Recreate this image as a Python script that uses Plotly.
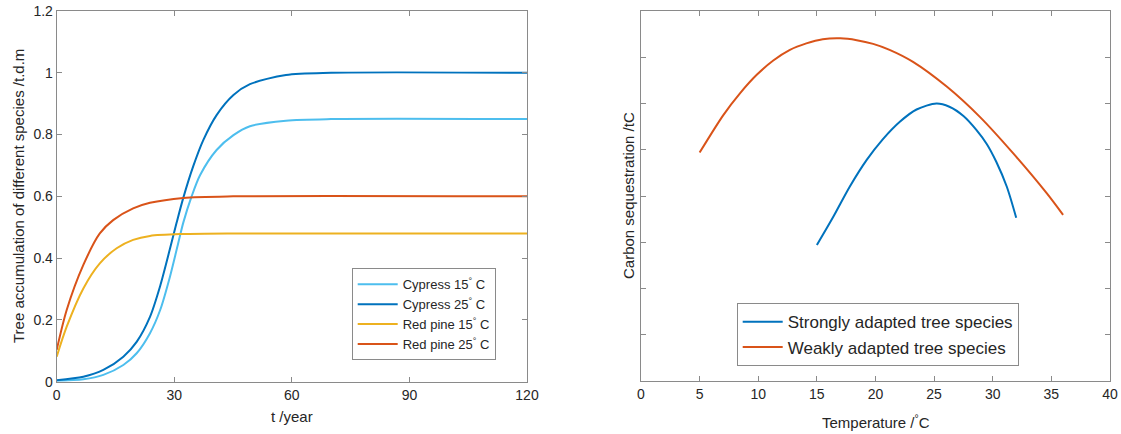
import plotly.graph_objects as go

# ---- Left panel data (t /year) ----
t_cyp25 = [0, 6.8, 11.9, 17, 20.4, 23.8, 26.4, 28.9, 30.6, 32.3, 34.8, 37.4, 40.8, 45.1, 49.3, 58.5, 70, 120]
cypress_25 = [0.005, 0.016, 0.038, 0.081, 0.129, 0.21, 0.31, 0.43, 0.515, 0.595, 0.696, 0.782, 0.863,
              0.928, 0.963, 0.993, 1.0, 1.0]
t_cyp15 = [0, 6.8, 11.9, 17, 20.4, 23.8, 26.4, 28.9, 31, 32.3, 34.4, 36.6, 40.8, 45.1, 49.3, 58.5, 70, 120]
cypress_15 = [0.003, 0.008, 0.022, 0.054, 0.092, 0.157, 0.232, 0.34, 0.448, 0.515, 0.599, 0.669, 0.75,
              0.798, 0.827, 0.845, 0.85, 0.85]
t_pine25 = [0, 2.55, 6.8, 11, 14.4, 19.5, 23.8, 32.3, 45, 120]
pine_25 = [0.103, 0.232, 0.378, 0.48, 0.523, 0.561, 0.579, 0.595, 0.6, 0.6]
t_pine15 = [0, 2.55, 6.8, 11, 15.3, 19.5, 23.8, 32, 45, 120]
pine_15 = [0.081, 0.178, 0.302, 0.383, 0.432, 0.459, 0.472, 0.478, 0.48, 0.48]

# ---- Right panel data (Temperature /°C) ----
temp_strong = [15, 16.4, 17.8, 19.25, 20.6, 22.1, 23.5, 25.2, 26.3, 27.5, 28.6, 29.5, 30.3, 31.2, 32]
carbon_strong = [2.94, 3.55, 4.20, 4.78, 5.22, 5.61, 5.87, 6.0, 5.93, 5.73, 5.43, 5.12, 4.74, 4.2, 3.53]
temp_weak = [5, 7.02, 8.44, 9.87, 11.28, 12.7, 14.1, 15.5, 17, 18.4, 19.8, 21.2, 23.2, 26.1, 28.9,
             31.75, 34.6, 36]
carbon_weak = [4.94, 5.75, 6.22, 6.62, 6.93, 7.16, 7.30, 7.39, 7.41, 7.37, 7.29, 7.16, 6.90, 6.36,
               5.71, 4.92, 4.06, 3.59]

left_labels = ["Cypress 15<sup>°</sup> C", "Cypress 25<sup>°</sup> C",
               "Red pine 15<sup>°</sup> C", "Red pine 25<sup>°</sup> C"]
right_labels = ["Strongly adapted tree species", "Weakly adapted tree species"]
left_xticks = [0, 30, 60, 90, 120]
left_yticks = [0, 0.2, 0.4, 0.6, 0.8, 1, 1.2]
left_yticktext = ["0", "0.2", "0.4", "0.6", "0.8", "1", "1.2"]
right_xticks = [0, 5, 10, 15, 20, 25, 30, 35, 40]
right_yticks = [0, 1, 2, 3, 4, 5, 6, 7, 8]

C_LBLUE = "#4DBEEE"
C_BLUE = "#0072BD"
C_YEL = "#EDB120"
C_ORG = "#D95319"

W, H = 1121, 434
FONT = "Liberation Sans, Arial, sans-serif"
TXT = "#262626"

def px(x):
    return x / W

def py(y):
    return 1 - y / H

fig = go.Figure()
lw = 2
def add(x, y, c, name, xa, ya, lg):
    fig.add_trace(go.Scatter(x=x, y=y, mode="lines",
                             line=dict(color=c, width=lw, shape="spline", smoothing=0.8),
                             name=name, xaxis=xa, yaxis=ya, legend=lg))

add(t_cyp15, cypress_15, C_LBLUE, left_labels[0], "x", "y", "legend")
add(t_cyp25, cypress_25, C_BLUE, left_labels[1], "x", "y", "legend")
add(t_pine15, pine_15, C_YEL, left_labels[2], "x", "y", "legend")
add(t_pine25, pine_25, C_ORG, left_labels[3], "x", "y", "legend")
add(temp_strong, carbon_strong, C_BLUE, right_labels[0], "x2", "y2", "legend2")
add(temp_weak, carbon_weak, C_ORG, right_labels[1], "x2", "y2", "legend2")

AX = "#8a8a8a"
TICKF = dict(family=FONT, size=14, color=TXT)
common = dict(showgrid=False, zeroline=False, showline=True, linecolor=AX, linewidth=1,
              mirror="allticks", ticks="inside", ticklen=5, tickcolor=AX, tickfont=TICKF,
              automargin=False)

fig.update_layout(
    width=W, height=H,
    margin=dict(l=0, r=0, t=0, b=0),
    paper_bgcolor="white", plot_bgcolor="white",
    font=dict(family=FONT, color=TXT),
    showlegend=True,
    xaxis=dict(domain=[px(56.7), px(527)], range=[0, 120], tickvals=left_xticks, anchor="y", **common),
    yaxis=dict(domain=[py(381.7), py(11)], range=[0, 1.2], tickvals=left_yticks, ticktext=left_yticktext,
               anchor="x", **common),
    xaxis2=dict(domain=[px(641), px(1110)], range=[0, 40], tickvals=right_xticks, anchor="y2", **common),
    yaxis2=dict(domain=[py(381), py(11)], range=[0, 8], tickvals=right_yticks, showticklabels=False,
                anchor="x2", **common),
    legend=dict(x=px(351.7), y=py(268.3), xanchor="left", yanchor="top",
                bgcolor="white", bordercolor=AX, borderwidth=1,
                font=dict(family=FONT, size=13, color=TXT), itemwidth=40, tracegroupgap=0),
    legend2=dict(x=px(736.7), y=py(303.3), xanchor="left", yanchor="top",
                 bgcolor="white", bordercolor=AX, borderwidth=1,
                 font=dict(family=FONT, size=17, color=TXT), itemwidth=40, tracegroupgap=0),
)

TF = dict(family=FONT, size=15, color=TXT)
def ann(text, x, y, angle=0):
    fig.add_annotation(text=text, x=px(x), y=py(y), xref="paper", yref="paper",
                       showarrow=False, textangle=angle, font=TF, xanchor="center", yanchor="middle")

ann("t /year", 292, 416)
ann("Tree accumulation of different species /t.d.m", 18, 196, -90)
ann("Temperature /<sup>°</sup>C", 876, 421)
ann("Carbon sequestration /tC", 628, 196, -90)

fig.write_html("out.html",
               config={"displayModeBar": False},
               post_script="document.body.style.margin='0';document.body.style.overflow='hidden';")
